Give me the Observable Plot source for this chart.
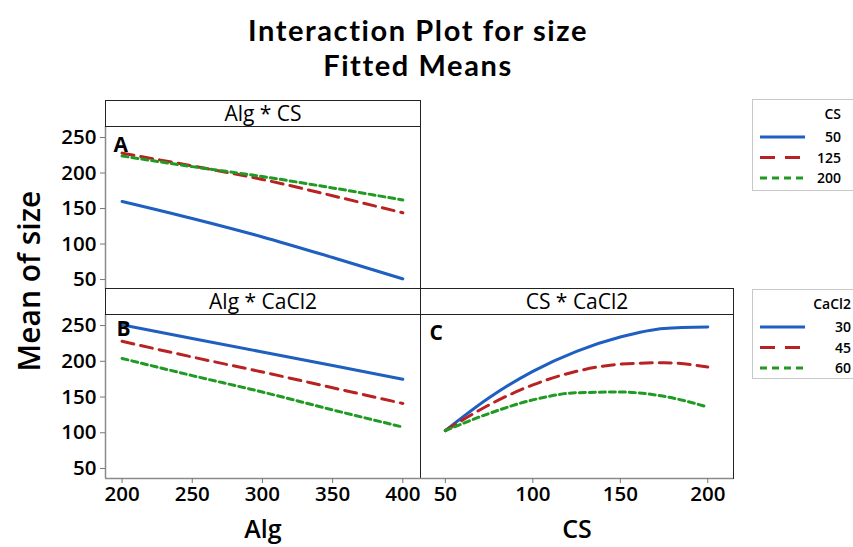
<!DOCTYPE html>
<html><head><meta charset="utf-8">
<script src="https://cdn.jsdelivr.net/npm/d3@7"></script>
<script src="https://cdn.jsdelivr.net/npm/@observablehq/plot@0.6"></script>
<style>
html,body{margin:0;padding:0;background:#fff;overflow:hidden;}
#wrap{position:relative;width:853px;height:547px;font-family:"Open Sans",sans-serif;color:#000;overflow:hidden;background:#fff;}
.abs{position:absolute;white-space:nowrap;}
.title{left:0;width:836px;text-align:center;font-family:Lato,sans-serif;font-size:29px;font-weight:700;line-height:35px;letter-spacing:1.6px;}
.strip{position:absolute;box-sizing:border-box;border:1px solid #222;background:#fff;text-align:center;font-size:21px;line-height:24px;}
.xlab{font-size:25px;font-weight:600;line-height:25px;transform:translateX(-50%);}
.legend{position:absolute;box-sizing:border-box;border:1px solid #c8c8c8;background:#fff;}
.panel svg{overflow:visible;}
</style></head>
<body><div id="wrap"></div>
<script>
// ---- data ----
const algLevels = [200, 250, 300, 350, 400];
const csLevels = [50, 75, 100, 125, 150, 175, 200];
const csGroups = ["50", "125", "200"];
const cacl2Groups = ["30", "45", "60"];
// Alg * CS (fitted means by CS level)
const algCS_cs50 = [160, 136, 110, 81, 51];
const algCS_cs125 = [228, 210, 191, 168, 144];
const algCS_cs200 = [224, 209, 195, 179, 162];
// Alg * CaCl2
const algCa_30 = [251, 232, 213, 194, 175];
const algCa_45 = [228, 206, 185, 163, 141];
const algCa_60 = [204, 180, 157, 132, 108];
// CS * CaCl2
const csCa_30 = [103, 149, 186, 214, 234, 246, 248];
const csCa_45 = [103, 139, 167, 186, 196, 198, 192];
const csCa_60 = [103, 127, 146, 156, 157, 151, 136];
const yTicks = [50, 100, 150, 200, 250];
const algTicks = [200, 250, 300, 350, 400];
const csTicks = [50, 100, 150, 200];

const colors = ["#1f5fc0", "#b82222", "#1f9a22"];
const dashes = [null, "12,7", "6,4"];
const yDomain = [36, 265.5];
const algDomain = [188.2, 412.6];
const csDomain = [35.8, 214.7];
const FONT = '"Open Sans", sans-serif';

function rows(xs, series, groups) {
  return series.flatMap((vals, i) => vals.map((v, j) => ({x: xs[j], y: v, g: groups[i]})));
}

const wrap = d3.select("#wrap");

function panel({data, groups, xDomain, xTicks, showX, showY, leftAxisLine, letter, ldx, ldy, left, top, width, height, marginLeft, marginBottom}) {
  const marks = [Plot.frame({stroke: "#222", strokeWidth: 1})];
  if (leftAxisLine) marks.push(Plot.ruleX([xDomain[0]], {stroke: "#8a8a8a", strokeWidth: 1.5}));
  if (showX) marks.push(Plot.ruleY([yDomain[0]], {stroke: "#8a8a8a", strokeWidth: 1.5}));
  if (showY) marks.push(Plot.axisY(yTicks, {tickSize: 5, tickPadding: 4, stroke: "#777", fill: "#000", fontSize: 20.5, fontWeight: 600, fontFamily: FONT, label: null}));
  if (showX) marks.push(Plot.axisX(xTicks, {tickSize: 5, tickPadding: 3, stroke: "#777", fill: "#000", fontSize: 20.5, fontWeight: 600, fontFamily: FONT, label: null}));
  groups.forEach((g, i) => {
    marks.push(Plot.line(data.filter(d => d.g === g), {x: "x", y: "y", stroke: "g", strokeWidth: 3, strokeDasharray: dashes[i], curve: "monotone-x"}));
  });
  marks.push(Plot.text([letter], {frameAnchor: "top-left", dx: ldx, dy: ldy, fontSize: 21, fontWeight: 700, fontFamily: FONT, textAnchor: "start", lineAnchor: "top", fill: "#000"}));
  const svg = Plot.plot({
    width, height,
    marginLeft, marginRight: 0, marginTop: 0, marginBottom,
    style: {background: "transparent", overflow: "visible", fontFamily: FONT},
    x: {domain: xDomain, axis: showX ? undefined : null},
    y: {domain: yDomain, axis: showY ? undefined : null},
    color: {domain: groups, range: colors},
    marks
  });
  wrap.append("div").attr("class", "abs panel").style("left", left + "px").style("top", top + "px").node().appendChild(svg);
}

// Titles
wrap.append("div").attr("class", "abs title").style("top", "12px").text("Interaction Plot for size");
wrap.append("div").attr("class", "abs title").style("top", "47px").text("Fitted Means");
wrap.append("div").attr("class", "abs").style("left", "28px").style("top", "281px")
  .style("transform", "translate(-50%,-50%) rotate(-90deg)").style("font-size", "30px").style("font-weight", "600").text("Mean of size");

// Panels
panel({data: rows(algLevels, [algCS_cs50, algCS_cs125, algCS_cs200], csGroups), groups: csGroups,
  xDomain: algDomain, xTicks: algTicks, showX: false, showY: true, leftAxisLine: true, letter: "A", ldx: 8, ldy: 11,
  left: 0, top: 126, width: 420, height: 163, marginLeft: 105, marginBottom: 0});
panel({data: rows(algLevels, [algCa_30, algCa_45, algCa_60], cacl2Groups), groups: cacl2Groups,
  xDomain: algDomain, xTicks: algTicks, showX: true, showY: true, leftAxisLine: true, letter: "B", ldx: 11, ldy: 7,
  left: 0, top: 314, width: 420, height: 194, marginLeft: 105, marginBottom: 30});
panel({data: rows(csLevels, [csCa_30, csCa_45, csCa_60], cacl2Groups), groups: cacl2Groups,
  xDomain: csDomain, xTicks: csTicks, showX: true, showY: false, leftAxisLine: false, letter: "C", ldx: 9, ldy: 11,
  left: 420, top: 314, width: 313, height: 194, marginLeft: 0, marginBottom: 30});

// Strips
function strip(text, left, top, width, height) {
  wrap.append("div").attr("class", "strip").style("left", left + "px").style("top", top + "px")
    .style("width", width + "px").style("height", height + "px").text(text);
}
strip("Alg * CS", 105, 100, 316, 27);
strip("Alg * CaCl2", 105, 288, 316, 27);
strip("CS * CaCl2", 420, 288, 314, 27);

// X labels
wrap.append("div").attr("class", "abs xlab").style("left", "263px").style("top", "516px").text("Alg");
wrap.append("div").attr("class", "abs xlab").style("left", "577px").style("top", "516px").text("CS");

// Legends
function legend(title, groups, top, height, right) {
  const box = wrap.append("div").attr("class", "legend").style("left", "752px").style("top", top + "px")
    .style("width", "140px").style("height", height + "px");
  const svg = box.append("svg").attr("width", 140).attr("height", height).style("position", "absolute").style("left", "-1px").style("top", "-1px");
  svg.append("text").attr("x", right).attr("y", 20).attr("text-anchor", "end").attr("font-size", 14).attr("font-weight", 600).attr("font-family", FONT).text(title);
  groups.forEach((g, i) => {
    const y = 38 + i * 20.5;
    svg.append("line").attr("x1", 8).attr("x2", 53).attr("y1", y).attr("y2", y)
      .attr("stroke", colors[i]).attr("stroke-width", 3).attr("stroke-dasharray", i === 0 ? null : (i === 1 ? "15,10" : "7,5"));
    svg.append("text").attr("x", right).attr("y", y + 5).attr("text-anchor", "end").attr("font-size", 14).attr("font-weight", 600).attr("font-family", FONT).text(g);
  });
}
legend("CS", csGroups, 99, 92, 89);
legend("CaCl2", cacl2Groups, 289, 90, 99);
</script></body></html>
